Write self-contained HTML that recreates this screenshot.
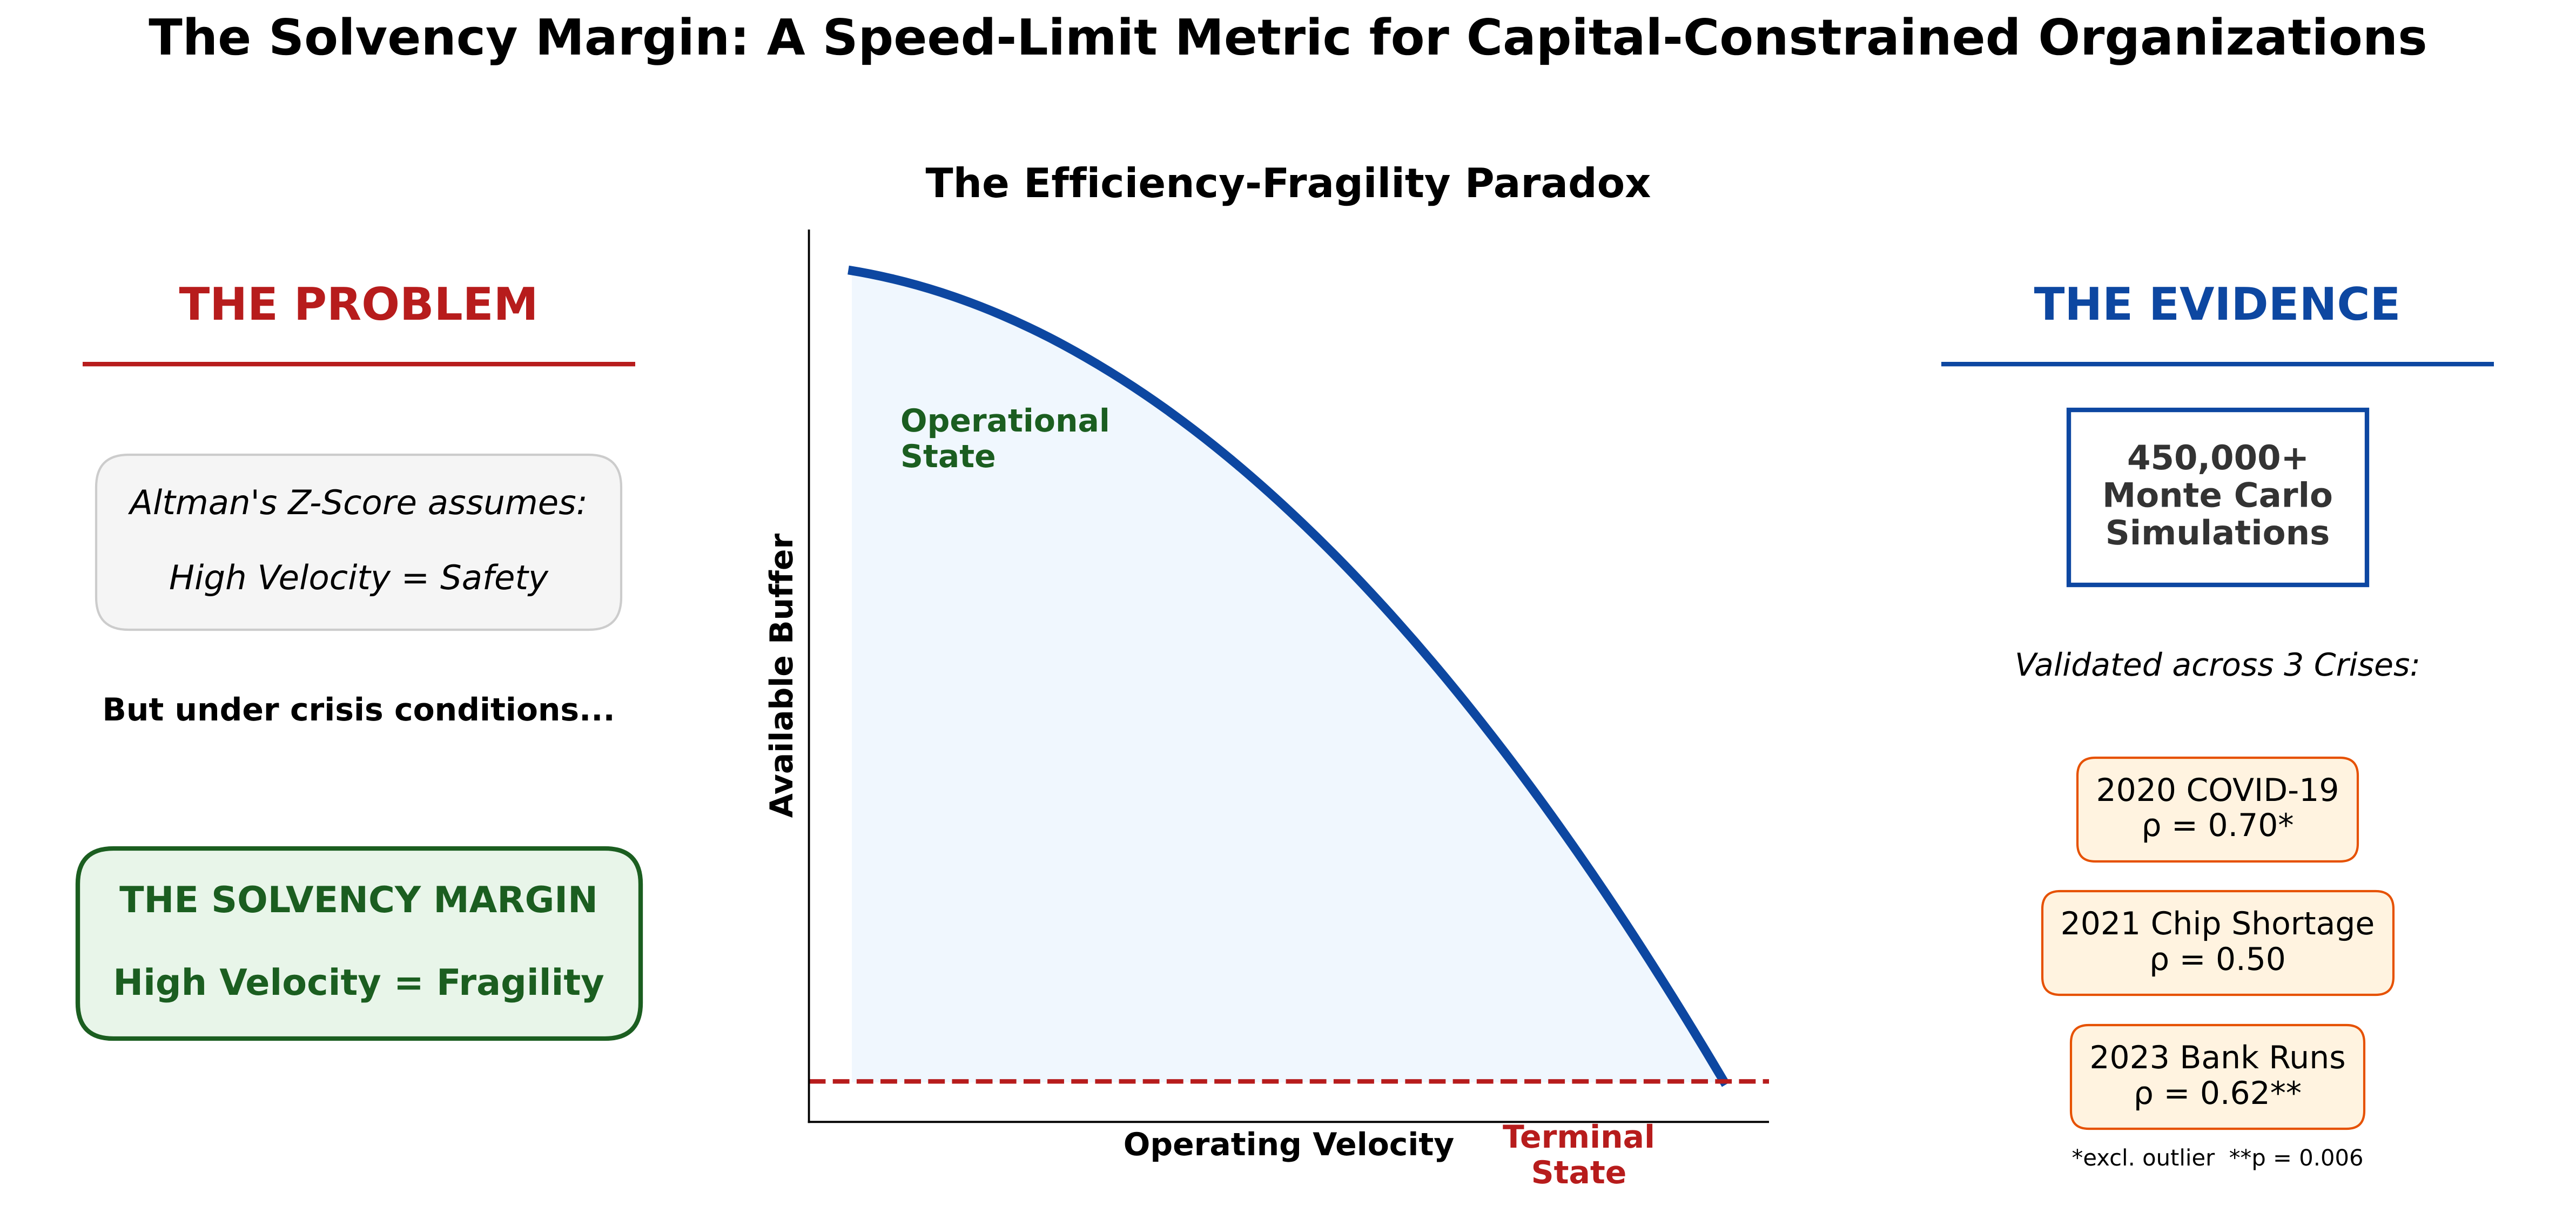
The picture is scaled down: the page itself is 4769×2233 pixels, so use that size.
<!DOCTYPE html>
<html lang="en">
<head>
<meta charset="utf-8">
<title>The Solvency Margin</title>
<style>
html,body{margin:0;padding:0;background:#fff;width:4769px;height:2233px;overflow:hidden}
svg{display:block}
text{font-family:"DejaVu Sans","Liberation Sans",sans-serif;text-rendering:geometricPrecision;white-space:pre;font-variant-ligatures:none;font-feature-settings:"liga" 0,"clig" 0}
.b{font-weight:700}
.i{font-style:italic}
.m{text-anchor:middle}
</style>
</head>
<body>
<svg id="figure" xmlns="http://www.w3.org/2000/svg" width="4769" height="2233" viewBox="0 0 4769 2233">
  <rect x="0" y="0" width="4769" height="2233" fill="#ffffff"/>
  <text class="b m" x="2384.5" y="101" font-size="91.67" fill="#000">The Solvency Margin: A Speed-Limit Metric for Capital-Constrained Organizations</text>

  <g>
    <text class="b m" x="664" y="592" font-size="83.33" fill="#b71c1c">THE PROBLEM</text>
    <rect x="153" y="670" width="1023" height="8.33" fill="#b71c1c"/>
    <path d="M238 842H1090Q1150 842 1150 902V1106Q1150 1166 1090 1166H238Q178 1166 178 1106V902Q178 842 238 842Z" fill="#f5f5f5" stroke="#cccccc" stroke-width="4.17"/>
    <text class="i m" x="664" y="952" font-size="62.5" fill="#000">Altman's Z-Score assumes:</text>
    <text class="i m" x="664" y="1091" font-size="62.5" fill="#000">High Velocity = Safety</text>
    <text class="b m" x="664" y="1334" font-size="58.33" fill="#000">But under crisis conditions...</text>
    <path d="M210 1571H1120Q1186 1571 1186 1637V1857Q1186 1923 1120 1923H210Q144 1923 144 1857V1637Q144 1571 210 1571Z" fill="#e8f5e9" stroke="#1b5e20" stroke-width="8.33"/>
    <text class="b m" x="664" y="1689" font-size="66.67" fill="#1b5e20">THE SOLVENCY MARGIN</text>
    <text class="b m" x="664" y="1842" font-size="66.67" fill="#1b5e20">High Velocity = Fragility</text>
  </g>

  <g id="chart">
    <text class="b m" x="2385" y="365" font-size="75" fill="#000">The Efficiency-Fragility Paradox</text>
    <g id="marks"></g>
    <text class="b" x="1667" y="799" font-size="58.33" fill="#1b5e20">Operational</text>
    <text class="b" x="1667" y="865" font-size="58.33" fill="#1b5e20">State</text>
    <text class="b m" x="2923" y="2125" font-size="58.33" fill="#b71c1c">Terminal</text>
    <text class="b m" x="2923" y="2191" font-size="58.33" fill="#b71c1c">State</text>
    <text class="b m" x="2386" y="2139" font-size="58.33" fill="#000">Operating Velocity</text>
    <text class="b m" x="0" y="0" font-size="58.33" fill="#000" transform="translate(1467 1251) rotate(-90)">Available Buffer</text>
  </g>

  <g>
    <text class="b m" x="4105" y="592" font-size="83.33" fill="#0d47a1">THE EVIDENCE</text>
    <rect x="3594" y="670" width="1023" height="8.33" fill="#0d47a1"/>
    <rect x="3830" y="759" width="552" height="324" fill="#ffffff" stroke="#0d47a1" stroke-width="8.33"/>
    <text class="b m" x="4106.5" y="869" font-size="62.5" fill="#333333">450,000+</text>
    <text class="b m" x="4105.5" y="938.5" font-size="62.5" fill="#333333">Monte Carlo</text>
    <text class="b m" x="4105.5" y="1008" font-size="62.5" fill="#333333">Simulations</text>
    <text class="i m" x="4105.5" y="1251" font-size="58.33" fill="#000">Validated across 3 Crises:</text>

    <path d="M3879 1403H4332Q4365 1403 4365 1436V1562Q4365 1595 4332 1595H3879Q3846 1595 3846 1562V1436Q3846 1403 3879 1403Z" fill="#fff3e0" stroke="#e65100" stroke-width="4.17"/>
    <text class="m" x="4105.5" y="1483" font-size="58.33" fill="#000">2020 COVID-19</text>
    <text class="m" x="4105.5" y="1548" font-size="58.33" fill="#000">ρ = 0.70*</text>

    <path d="M3814 1650H4398Q4431 1650 4431 1683V1809Q4431 1842 4398 1842H3814Q3781 1842 3781 1809V1683Q3781 1650 3814 1650Z" fill="#fff3e0" stroke="#e65100" stroke-width="4.17"/>
    <text class="m" x="4105.5" y="1730" font-size="58.33" fill="#000">2021 Chip Shortage</text>
    <text class="m" x="4105.5" y="1796" font-size="58.33" fill="#000">ρ = 0.50</text>

    <path d="M3867 1898H4344Q4377 1898 4377 1931V2057Q4377 2090 4344 2090H3867Q3834 2090 3834 2057V1931Q3834 1898 3867 1898Z" fill="#fff3e0" stroke="#e65100" stroke-width="4.17"/>
    <text class="m" x="4105.5" y="1978" font-size="58.33" fill="#000">2023 Bank Runs</text>
    <text class="m" x="4105.5" y="2044" font-size="58.33" fill="#000">ρ = 0.62**</text>

    <text class="m" x="4105.5" y="2158" font-size="41.67" fill="#000">*excl. outlier  **p = 0.006</text>
  </g>
</svg>

<script>
// Values (axes run 0..1 on both dimensions).
const velocity = [0.041, 0.10, 0.15, 0.20, 0.25, 0.30, 0.35, 0.40, 0.45, 0.50, 0.55, 0.60, 0.65, 0.70, 0.75, 0.80, 0.85, 0.90, 0.955];
const buffer = [0.9546, 0.9413, 0.9251, 0.9044, 0.8792, 0.8493, 0.8151, 0.7763, 0.7329, 0.6850, 0.6327, 0.5758, 0.5144, 0.4484, 0.3780, 0.3030, 0.2235, 0.1394, 0.0418];
const terminalThreshold = [0.0454];
const fillStartVelocity = [0.0447];
const fillFloorBuffer = [0.0443];

const AX_LEFT = 1497.6, AX_RIGHT = 3275, AX_TOP = 425, AX_BOTTOM = 2077.3;
function xScale(v) { return AX_LEFT + (AX_RIGHT - AX_LEFT) * v; }
function yScale(b) { return AX_BOTTOM - (AX_BOTTOM - AX_TOP) * b; }

// Smooth curve through the read points (cubic Hermite with three-point slopes).
function smoothPath(xs, ys) {
  const px = xs.map(xScale), py = ys.map(yScale), n = px.length;
  const slope = [];
  for (let i = 0; i < n - 1; i++) slope.push((py[i + 1] - py[i]) / (px[i + 1] - px[i]));
  const m = new Array(n);
  for (let i = 1; i < n - 1; i++) {
    const h0 = px[i] - px[i - 1], h1 = px[i + 1] - px[i];
    m[i] = (h0 * slope[i] + h1 * slope[i - 1]) / (h0 + h1);
  }
  m[0] = 2 * slope[0] - m[1];
  m[n - 1] = 2 * slope[n - 2] - m[n - 2];
  let d = 'M' + px[0].toFixed(2) + ' ' + py[0].toFixed(2);
  for (let i = 0; i < n - 1; i++) {
    const h = px[i + 1] - px[i];
    d += 'C' + (px[i] + h / 3).toFixed(2) + ' ' + (py[i] + m[i] * h / 3).toFixed(2) + ' ' +
         (px[i + 1] - h / 3).toFixed(2) + ' ' + (py[i + 1] - m[i + 1] * h / 3).toFixed(2) + ' ' +
         px[i + 1].toFixed(2) + ' ' + py[i + 1].toFixed(2);
  }
  return d;
}

const NS = 'http://www.w3.org/2000/svg';
const marks = document.getElementById('marks');
const curveD = smoothPath(velocity, buffer);
const last = velocity.length - 1;

// Clip for the shaded operating region
const defs = document.createElementNS(NS, 'defs');
const clip = document.createElementNS(NS, 'clipPath');
clip.setAttribute('id', 'fill-clip');
const clipRect = document.createElementNS(NS, 'rect');
clipRect.setAttribute('x', xScale(fillStartVelocity[0]));
clipRect.setAttribute('y', AX_TOP);
clipRect.setAttribute('width', AX_RIGHT - xScale(fillStartVelocity[0]));
clipRect.setAttribute('height', yScale(fillFloorBuffer[0]) - AX_TOP);
clip.appendChild(clipRect);
defs.appendChild(clip);
marks.appendChild(defs);

const area = document.createElementNS(NS, 'path');


area.setAttribute('d', curveD + 'L' + xScale(velocity[last]).toFixed(2) + ' ' + AX_BOTTOM + 'L' + xScale(velocity[0]).toFixed(2) + ' ' + AX_BOTTOM + 'Z');
area.setAttribute('fill', '#f0f7fe');
area.setAttribute('clip-path', 'url(#fill-clip)');
marks.appendChild(area);

const curve = document.createElementNS(NS, 'path');


curve.setAttribute('d', curveD);
curve.setAttribute('fill', 'none');
curve.setAttribute('stroke', '#0d47a1');
curve.setAttribute('stroke-width', '16.67');
curve.setAttribute('stroke-linecap', 'butt');
marks.appendChild(curve);

const threshold = document.createElementNS(NS, 'line');


threshold.setAttribute('x1', AX_LEFT);
threshold.setAttribute('x2', AX_RIGHT);
threshold.setAttribute('y1', yScale(terminalThreshold[0]));
threshold.setAttribute('y2', yScale(terminalThreshold[0]));
threshold.setAttribute('stroke', '#b71c1c');
threshold.setAttribute('stroke-width', '8.33');
threshold.setAttribute('stroke-dasharray', '30.83 13.32');
marks.appendChild(threshold);

const yAxis = document.createElementNS(NS, 'line');


yAxis.setAttribute('x1', AX_LEFT);
yAxis.setAttribute('x2', AX_LEFT);
yAxis.setAttribute('y1', AX_TOP);
yAxis.setAttribute('y2', AX_BOTTOM + 2);
yAxis.setAttribute('stroke', '#000');
yAxis.setAttribute('stroke-width', '3.8');
marks.appendChild(yAxis);

const xAxis = document.createElementNS(NS, 'line');


xAxis.setAttribute('x1', AX_LEFT - 2);
xAxis.setAttribute('x2', AX_RIGHT);
xAxis.setAttribute('y1', AX_BOTTOM);
xAxis.setAttribute('y2', AX_BOTTOM);
xAxis.setAttribute('stroke', '#000');
xAxis.setAttribute('stroke-width', '3.8');
marks.appendChild(xAxis);
</script>
</body>
</html>
